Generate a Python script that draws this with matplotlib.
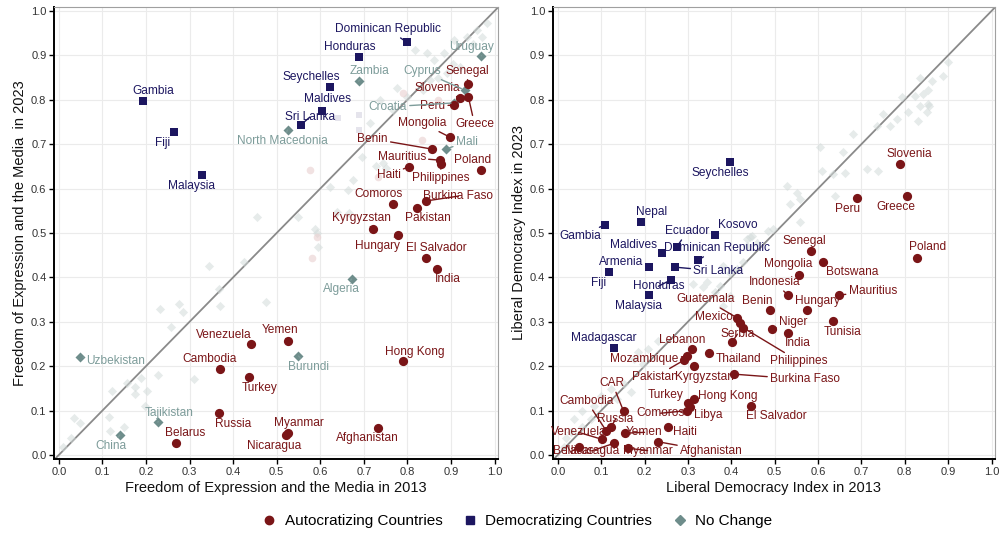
import matplotlib
matplotlib.use("Agg")
import matplotlib.pyplot as plt
from matplotlib.lines import Line2D

plt.rcParams['font.family'] = ['Liberation Sans', 'DejaVu Sans']

# ---------------- Panel 1: Freedom of Expression and the Media ----------------
fe_auto_names = ["Senegal", "Slovenia", "Peru", "Greece", "Mongolia", "Benin", "Mauritius",
                 "Philippines", "Haiti", "Poland", "Comoros", "Burkina Faso", "Pakistan",
                 "Kyrgyzstan", "Hungary", "El Salvador", "India", "Hong Kong", "Afghanistan",
                 "Myanmar", "Nicaragua", "Yemen", "Venezuela", "Cambodia", "Turkey", "Russia",
                 "Belarus"]
fe_auto_2013 = [0.938, 0.920, 0.908, 0.940, 0.897, 0.856, 0.874, 0.877, 0.803, 0.970, 0.768,
                0.842, 0.821, 0.720, 0.778, 0.842, 0.869, 0.791, 0.732, 0.525, 0.521, 0.525,
                0.440, 0.369, 0.436, 0.367, 0.268]
fe_auto_2023 = [0.836, 0.804, 0.788, 0.806, 0.716, 0.689, 0.664, 0.656, 0.649, 0.642, 0.565,
                0.572, 0.556, 0.509, 0.495, 0.444, 0.419, 0.212, 0.061, 0.050, 0.045, 0.257,
                0.250, 0.194, 0.176, 0.095, 0.027]

fe_demo_names = ["Gambia", "Fiji", "Malaysia", "Seychelles", "Maldives", "Sri Lanka",
                 "Honduras", "Dominican Republic"]
fe_demo_2013 = [0.193, 0.264, 0.328, 0.622, 0.603, 0.555, 0.688, 0.798]
fe_demo_2023 = [0.797, 0.727, 0.631, 0.829, 0.775, 0.743, 0.896, 0.930]

fe_same_names = ["Uruguay", "Zambia", "Cyprus", "Croatia", "Mali", "North Macedonia",
                 "Algeria", "Burundi", "Uzbekistan", "Tajikistan", "China"]
fe_same_2013 = [0.970, 0.688, 0.931, 0.908, 0.888, 0.525, 0.672, 0.550, 0.048, 0.227, 0.140]
fe_same_2023 = [0.899, 0.842, 0.822, 0.793, 0.689, 0.732, 0.396, 0.223, 0.221, 0.074, 0.045]

# unlabeled countries (faint)
fe_bg_2013 = [0.344, 0.424, 0.367, 0.369, 0.475, 0.232, 0.275, 0.286, 0.257, 0.188, 0.227,
              0.310, 0.156, 0.122, 0.174, 0.174, 0.202, 0.197, 0.115, 0.149, 0.117, 0.034,
              0.048, 0.027, 0.010, 0.454, 0.548, 0.713, 0.695, 0.727, 0.743, 0.750, 0.674,
              0.622, 0.663, 0.638, 0.665, 0.592, 0.594, 0.589, 0.817, 0.844, 0.862, 0.885,
              0.908, 0.936, 0.959, 0.982, 0.972, 0.920, 0.890, 0.851, 0.835, 0.775, 0.798,
              0.766, 0.736, 0.905, 0.950, 0.870]
fe_bg_2023 = [0.426, 0.435, 0.374, 0.336, 0.345, 0.329, 0.340, 0.322, 0.288, 0.173, 0.180,
              0.171, 0.162, 0.144, 0.153, 0.137, 0.144, 0.110, 0.086, 0.063, 0.054, 0.083,
              0.072, 0.038, 0.018, 0.536, 0.536, 0.748, 0.671, 0.651, 0.658, 0.646, 0.619,
              0.604, 0.597, 0.547, 0.545, 0.500, 0.468, 0.509, 0.912, 0.905, 0.890, 0.905,
              0.935, 0.941, 0.957, 0.973, 0.941, 0.874, 0.860, 0.845, 0.822, 0.827, 0.806,
              0.777, 0.800, 0.880, 0.925, 0.850]
fe_bg_auto_2013 = [0.576, 0.732, 0.580, 0.592, 0.833, 0.789, 0.870]
fe_bg_auto_2023 = [0.642, 0.626, 0.444, 0.491, 0.709, 0.815, 0.800]
fe_bg_demo_2013 = [0.690, 0.690, 0.640]
fe_bg_demo_2023 = [0.766, 0.732, 0.760]

# ---------------- Panel 2: Liberal Democracy Index ----------------
ld_auto_names = ["Slovenia", "Peru", "Greece", "Poland", "Senegal", "Mongolia", "Botswana",
                 "Indonesia", "Mauritius", "Hungary", "Benin", "Niger", "Tunisia", "India",
                 "Guatemala", "Mexico", "Philippines", "Serbia", "Thailand", "Burkina Faso",
                 "Lebanon", "Mozambique", "Pakistan", "Kyrgyzstan", "Hong Kong", "Turkey",
                 "Libya", "Comoros", "El Salvador", "Haiti", "Afghanistan", "CAR", "Cambodia",
                 "Russia", "Venezuela", "Yemen", "Nicaragua", "Myanmar", "Belarus"]
ld_auto_2013 = [0.789, 0.690, 0.805, 0.828, 0.584, 0.556, 0.611, 0.531, 0.648, 0.575, 0.490,
                0.494, 0.634, 0.531, 0.413, 0.420, 0.427, 0.402, 0.349, 0.407, 0.310, 0.299,
                0.290, 0.315, 0.313, 0.301, 0.306, 0.299, 0.446, 0.253, 0.230, 0.152, 0.112,
                0.122, 0.103, 0.154, 0.129, 0.163, 0.050]
ld_auto_2023 = [0.656, 0.579, 0.583, 0.444, 0.459, 0.405, 0.435, 0.360, 0.360, 0.326, 0.326,
                0.283, 0.301, 0.274, 0.309, 0.298, 0.287, 0.254, 0.229, 0.182, 0.238, 0.222,
                0.213, 0.200, 0.125, 0.116, 0.107, 0.100, 0.110, 0.064, 0.030, 0.098, 0.054,
                0.062, 0.035, 0.049, 0.026, 0.015, 0.018]

ld_demo_names = ["Seychelles", "Nepal", "Gambia", "Kosovo", "Ecuador", "Maldives",
                 "Dominican Republic", "Armenia", "Sri Lanka", "Fiji", "Honduras", "Malaysia",
                 "Madagascar"]
ld_demo_2013 = [0.398, 0.193, 0.108, 0.363, 0.274, 0.241, 0.324, 0.211, 0.271, 0.117, 0.260,
                0.211, 0.129]
ld_demo_2023 = [0.660, 0.525, 0.518, 0.495, 0.468, 0.455, 0.439, 0.423, 0.423, 0.412, 0.394,
                0.360, 0.240]

ld_bg_2013 = [0.834, 0.853, 0.851, 0.830, 0.807, 0.782, 0.749, 0.766, 0.736, 0.681, 0.605,
              0.658, 0.713, 0.738, 0.609, 0.662, 0.634, 0.529, 0.551, 0.536, 0.559, 0.639,
              0.559, 0.497, 0.448, 0.437, 0.428, 0.398, 0.382, 0.444, 0.485, 0.460, 0.437,
              0.382, 0.414, 0.398, 0.345, 0.375, 0.311, 0.334, 0.363, 0.185, 0.208, 0.231,
              0.175, 0.196, 0.168, 0.152, 0.122, 0.099, 0.137, 0.083, 0.057, 0.037, 0.076,
              0.057, 0.030, 0.018, 0.014, 0.899, 0.887, 0.834, 0.862, 0.853, 0.823, 0.841,
              0.793, 0.857]
ld_bg_2023 = [0.786, 0.790, 0.772, 0.752, 0.773, 0.757, 0.768, 0.741, 0.741, 0.723, 0.694,
              0.682, 0.644, 0.639, 0.639, 0.636, 0.632, 0.605, 0.591, 0.565, 0.576, 0.583,
              0.524, 0.508, 0.493, 0.486, 0.434, 0.358, 0.336, 0.491, 0.504, 0.478, 0.470,
              0.425, 0.418, 0.410, 0.389, 0.380, 0.385, 0.378, 0.366, 0.231, 0.238, 0.256,
              0.216, 0.205, 0.141, 0.159, 0.148, 0.132, 0.125, 0.110, 0.098, 0.080, 0.080,
              0.064, 0.052, 0.039, 0.019, 0.886, 0.854, 0.848, 0.843, 0.821, 0.809, 0.814,
              0.807, 0.787]

# label text positions (data units), kept separate from the values
fe_auto_lab = {"Senegal": (0.938, 0.865), "Slovenia": (0.869, 0.827), "Peru": (0.858, 0.786),
               "Greece": (0.954, 0.745), "Mongolia": (0.833, 0.748), "Benin": (0.720, 0.712),
               "Mauritius": (0.787, 0.671), "Philippines": (0.876, 0.624), "Haiti": (0.757, 0.631),
               "Poland": (0.950, 0.664), "Comoros": (0.734, 0.588), "Burkina Faso": (0.917, 0.583),
               "Pakistan": (0.846, 0.534), "Kyrgyzstan": (0.695, 0.534), "Hungary": (0.732, 0.471),
               "El Salvador": (0.867, 0.466), "India": (0.892, 0.396), "Hong Kong": (0.817, 0.232),
               "Afghanistan": (0.709, 0.038), "Myanmar": (0.550, 0.072), "Nicaragua": (0.495, 0.020),
               "Yemen": (0.507, 0.282), "Venezuela": (0.378, 0.270), "Cambodia": (0.346, 0.216),
               "Turkey": (0.461, 0.151), "Russia": (0.401, 0.070), "Belarus": (0.291, 0.050)}
fe_demo_lab = {"Gambia": (0.216, 0.820), "Fiji": (0.239, 0.703), "Malaysia": (0.305, 0.606),
               "Seychelles": (0.580, 0.852), "Maldives": (0.617, 0.802), "Sri Lanka": (0.576, 0.761),
               "Honduras": (0.667, 0.919), "Dominican Republic": (0.755, 0.959)}
fe_same_lab = {"Uruguay": (0.947, 0.919), "Zambia": (0.713, 0.865), "Cyprus": (0.833, 0.865),
               "Croatia": (0.755, 0.784), "Mali": (0.936, 0.705), "North Macedonia": (0.514, 0.707),
               "Algeria": (0.649, 0.374), "Burundi": (0.573, 0.198), "Uzbekistan": (0.131, 0.212),
               "Tajikistan": (0.252, 0.095), "China": (0.119, 0.020)}
ld_auto_lab = {"Slovenia": (0.811, 0.678), "Peru": (0.667, 0.554), "Greece": (0.779, 0.559),
               "Poland": (0.853, 0.468), "Senegal": (0.568, 0.482), "Mongolia": (0.531, 0.430),
               "Botswana": (0.678, 0.412), "Indonesia": (0.499, 0.389), "Mauritius": (0.726, 0.369),
               "Hungary": (0.598, 0.346), "Benin": (0.460, 0.346), "Niger": (0.543, 0.299),
               "Tunisia": (0.657, 0.277), "India": (0.554, 0.252), "Guatemala": (0.340, 0.351),
               "Mexico": (0.359, 0.310), "Philippines": (0.556, 0.211), "Serbia": (0.414, 0.272),
               "Thailand": (0.416, 0.216), "Burkina Faso": (0.570, 0.170), "Lebanon": (0.287, 0.259),
               "Mozambique": (0.200, 0.216), "Pakistan": (0.223, 0.175), "Kyrgyzstan": (0.338, 0.175),
               "Hong Kong": (0.393, 0.132), "Turkey": (0.248, 0.134), "Libya": (0.347, 0.089),
               "Comoros": (0.237, 0.094), "El Salvador": (0.503, 0.087), "Haiti": (0.294, 0.051),
               "Afghanistan": (0.354, 0.008), "CAR": (0.126, 0.161), "Cambodia": (0.067, 0.121),
               "Russia": (0.133, 0.080), "Venezuela": (0.048, 0.051), "Yemen": (0.200, 0.051),
               "Nicaragua": (0.080, 0.010), "Myanmar": (0.207, 0.010), "Belarus": (0.035, 0.010)}
ld_demo_lab = {"Seychelles": (0.375, 0.635), "Nepal": (0.216, 0.547), "Gambia": (0.051, 0.493),
               "Kosovo": (0.416, 0.518), "Ecuador": (0.299, 0.504), "Maldives": (0.175, 0.473),
               "Dominican Republic": (0.368, 0.466), "Armenia": (0.147, 0.434),
               "Sri Lanka": (0.370, 0.414), "Fiji": (0.094, 0.387), "Honduras": (0.232, 0.380),
               "Malaysia": (0.186, 0.335), "Madagascar": (0.106, 0.263)}

# ---------------- styling ----------------
C_AUTO = "#7a1517"
C_DEMO = "#1c1660"
C_SAME = "#6e8d8b"
C_SAME_TXT = "#7d9c9a"
C_BG = "#d3dbda"
LAB_FS = 8.6

fig = plt.figure(figsize=(10.08, 5.36), dpi=100)
ax1 = fig.add_axes([0.0536, 0.1437, 0.4405, 0.8433])
ax2 = fig.add_axes([0.5486, 0.1437, 0.4385, 0.8433])


def style_axes(ax, xlabel, ylabel):
    ax.set_xlim(-0.011, 1.008)
    ax.set_ylim(-0.009, 1.009)
    ticks = [i / 10 for i in range(11)]
    ax.set_xticks(ticks)
    ax.set_yticks(ticks)
    ax.set_xticklabels([f"{t:.1f}" for t in ticks])
    ax.set_yticklabels([f"{t:.1f}" for t in ticks])
    ax.tick_params(axis='both', labelsize=8, length=3.5, width=1, pad=2,
                   colors='black', labelcolor='#333333')
    ax.grid(True, color='#ebebeb', lw=0.8, zorder=0)
    ax.set_axisbelow(True)
    for s in ['top', 'right']:
        ax.spines[s].set_color('#a0a0a0')
        ax.spines[s].set_linewidth(0.8)
    for s in ['left', 'bottom']:
        ax.spines[s].set_color('black')
        ax.spines[s].set_linewidth(1.4)
    ax.set_xlabel(xlabel, fontsize=10.5, color='#111111', labelpad=3)
    ax.set_ylabel(ylabel, fontsize=10.5, color='#111111', labelpad=3)
    ax.plot([-0.02, 1.02], [-0.02, 1.02], color='#8a8a8a', lw=1.3, zorder=2)


def annotate(ax, names, xs, ys, labpos, color):
    for n, x, y in zip(names, xs, ys):
        lx, ly = labpos[n]
        ax.annotate(n, xy=(x, y), xytext=(lx, ly), textcoords='data', ha='center',
                    va='center', fontsize=LAB_FS, color=color, zorder=6,
                    arrowprops=dict(arrowstyle='-', color=color, lw=1.0,
                                    shrinkA=0, shrinkB=2.5))


style_axes(ax1, "Freedom of Expression and the Media in 2013",
           "Freedom of Expression and the Media  in 2023")
style_axes(ax2, "Liberal Democracy Index in 2013", "Liberal Democracy Index in 2023")

# Panel 1 points
ax1.scatter(fe_bg_2013, fe_bg_2023, marker='D', s=22, color=C_BG, alpha=0.55, lw=0, zorder=3)
ax1.scatter(fe_bg_auto_2013, fe_bg_auto_2023, marker='o', s=30, color='#e9cfcf', alpha=0.6,
            lw=0, zorder=3)
ax1.scatter(fe_bg_demo_2013, fe_bg_demo_2023, marker='s', s=24, color='#d4d3e0', alpha=0.6,
            lw=0, zorder=3)
ax1.scatter(fe_same_2013, fe_same_2023, marker='D', s=26, color=C_SAME, lw=0, zorder=4)
ax1.scatter(fe_demo_2013, fe_demo_2023, marker='s', s=32, color=C_DEMO, lw=0, zorder=4)
ax1.scatter(fe_auto_2013, fe_auto_2023, marker='o', s=44, color=C_AUTO, lw=0, zorder=4)
annotate(ax1, fe_auto_names, fe_auto_2013, fe_auto_2023, fe_auto_lab, C_AUTO)
annotate(ax1, fe_demo_names, fe_demo_2013, fe_demo_2023, fe_demo_lab, C_DEMO)
annotate(ax1, fe_same_names, fe_same_2013, fe_same_2023, fe_same_lab, C_SAME_TXT)

# Panel 2 points
ax2.scatter(ld_bg_2013, ld_bg_2023, marker='D', s=22, color=C_BG, alpha=0.55, lw=0, zorder=3)
ax2.scatter(ld_demo_2013, ld_demo_2023, marker='s', s=32, color=C_DEMO, lw=0, zorder=4)
ax2.scatter(ld_auto_2013, ld_auto_2023, marker='o', s=44, color=C_AUTO, lw=0, zorder=4)
annotate(ax2, ld_auto_names, ld_auto_2013, ld_auto_2023, ld_auto_lab, C_AUTO)
annotate(ax2, ld_demo_names, ld_demo_2013, ld_demo_2023, ld_demo_lab, C_DEMO)

# Legend
handles = [Line2D([], [], marker='o', ls='', color=C_AUTO, markersize=6),
           Line2D([], [], marker='s', ls='', color=C_DEMO, markersize=5.5),
           Line2D([], [], marker='D', ls='', color=C_SAME, markersize=5)]
fig.legend(handles, ["Autocratizing Countries", "Democratizing Countries", "No Change"],
           loc='center', bbox_to_anchor=(0.512, 0.028), ncol=3, frameon=False,
           fontsize=11, handletextpad=0.4, columnspacing=1.2, handlelength=1.2)

fig.savefig("out.png", dpi=100)
